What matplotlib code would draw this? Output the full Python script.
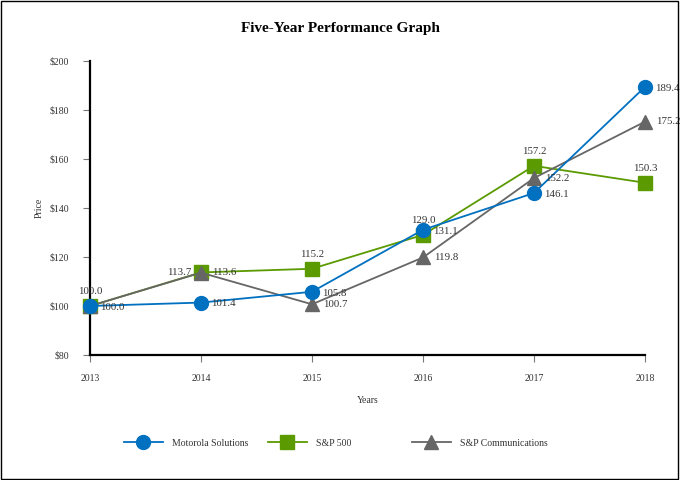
import numpy as np
import matplotlib
matplotlib.use('Agg')
import matplotlib.pyplot as plt
from matplotlib.patches import Rectangle

plt.rcParams['font.family'] = ['Liberation Serif', 'DejaVu Serif']

years = [2013, 2014, 2015, 2016, 2017, 2018]
motorola = [100.0, 101.4, 105.8, 131.1, 146.1, 189.4]
sp500 = [100.0, 113.7, 115.2, 129.0, 157.2, 150.3]
spcomm = [100.0, 113.6, 100.7, 119.8, 152.2, 175.2]
names = ['Motorola Solutions', 'S&P 500', 'S&P Communications']

blue = '#0070c0'
green = '#5b9a00'
gray = '#666666'
txt = '#333333'

fig = plt.figure(figsize=(6.8, 4.8), dpi=100)
ax = fig.add_axes([0.1324, 0.2604, 0.816, 0.6126])

l1, = ax.plot(years, motorola, color=blue, marker='o', markersize=10, lw=1.3, zorder=4, clip_on=False)
l2, = ax.plot(years, sp500, color=green, marker='s', markersize=10, lw=1.3, zorder=3, clip_on=False)
l3, = ax.plot(years, spcomm, color=gray, marker='^', markersize=10, lw=1.3, zorder=3, clip_on=False)

fs = 7.8
# data labels
for x, v in zip(years, motorola):
    ax.annotate('%.1f' % v, (x, v), xytext=(7, -1), textcoords='offset points',
                fontsize=fs, color=txt, va='center', zorder=5, annotation_clip=False)
for i, (x, v) in enumerate(zip(years, sp500)):
    if i == 1:
        ax.annotate('%.1f' % v, (x, v), xytext=(-7, 0), textcoords='offset points',
                    fontsize=fs, color=txt, va='center', ha='right', zorder=5)
    else:
        ax.annotate('%.1f' % v, (x, v), xytext=(0, 7), textcoords='offset points',
                    fontsize=fs, color=txt, va='bottom', ha='center', zorder=5)
for i, (x, v) in enumerate(zip(years, spcomm)):
    if i == 0:
        continue
    ax.annotate('%.1f' % v, (x, v), xytext=(8, 0), textcoords='offset points',
                fontsize=fs, color=txt, va='center', zorder=5, annotation_clip=False)

ax.set_xlim(2013, 2018)
ax.set_ylim(80, 200)
ax.set_yticks(np.arange(80, 201, 20))
ax.set_yticklabels(['$%d' % t for t in range(80, 201, 20)])
ax.set_xticks(years)
ax.tick_params(axis='both', labelsize=7, labelcolor=txt, color='#777777', length=5, width=0.8)
ax.tick_params(axis='y', pad=10)
ax.tick_params(axis='x', pad=9)
for s in ['top', 'right']:
    ax.spines[s].set_visible(False)
for s in ['left', 'bottom']:
    ax.spines[s].set_linewidth(1.6)
    ax.spines[s].set_color('black')

ax.set_ylabel('Price', fontsize=7, color=txt, labelpad=4)
ax.set_xlabel('Years', fontsize=7, color=txt, labelpad=9)

fig.suptitle('Five-Year Performance Graph', fontsize=11, fontweight='bold', y=0.955)

# legend: three equally spaced entries
for h, name, xpix in zip([l1, l2, l3], names, [124, 268, 412]):
    fig.legend([h], [name], loc='center left', bbox_to_anchor=(xpix / 680, 0.077), frameon=False,
               fontsize=7, handlelength=4.0, handletextpad=0.9, labelcolor=txt,
               borderpad=0, borderaxespad=0)

fig.patches.append(Rectangle((0.002, 0.003), 0.995, 0.994, transform=fig.transFigure,
                             fill=False, edgecolor='black', lw=1))

fig.savefig('out.png', dpi=100)
